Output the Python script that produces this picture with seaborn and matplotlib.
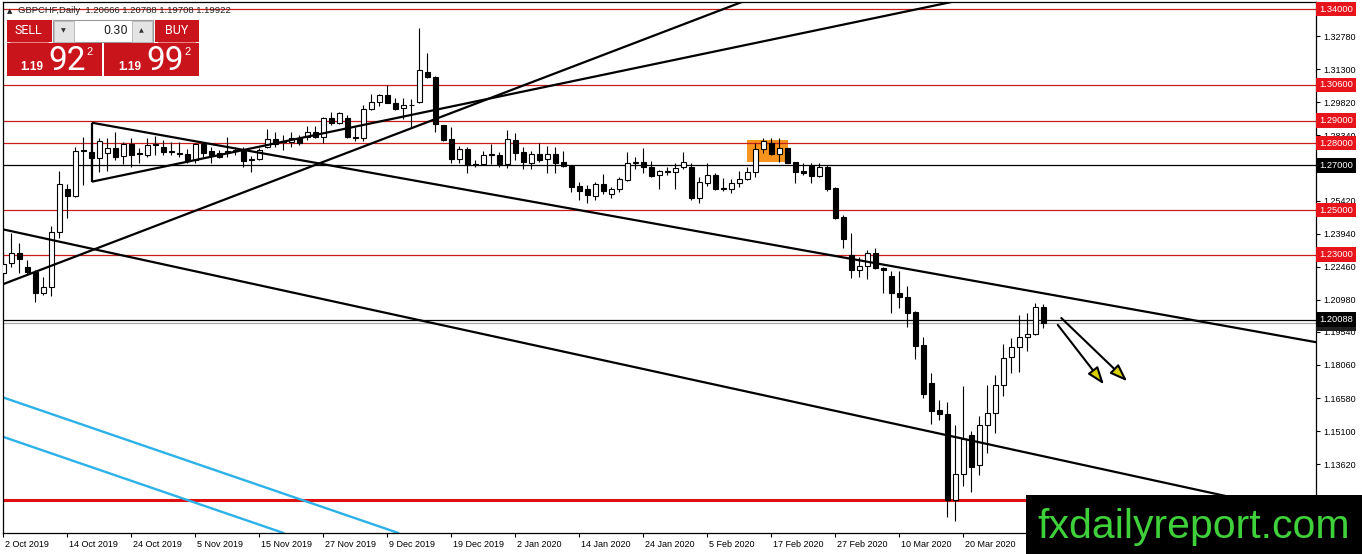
import matplotlib
matplotlib.use("Agg")
import matplotlib.pyplot as plt
import matplotlib.transforms as mtransforms
from matplotlib.patches import Rectangle, FancyArrowPatch
import seaborn as sns
import pandas as pd
import numpy as np

sns.set_theme(style="white")
plt.rcParams["font.family"] = ["Liberation Sans", "DejaVu Sans"]

# ---------------- data (GBPCHF daily) ----------------
opens = [1.22193, 1.22614, 1.23089, 1.22462, 1.22238, 1.21298, 1.2154, 1.24003, 1.25942, 1.25628,
         1.27675, 1.27612, 1.27316, 1.27567, 1.27764, 1.27419, 1.27957, 1.27563, 1.27464, 1.27934,
         1.27809, 1.27634, 1.27531, 1.27509, 1.2724, 1.27957, 1.27643, 1.2754, 1.2759, 1.27634,
         1.27657, 1.27294, 1.27272, 1.27809, 1.28167, 1.28037, 1.2806, 1.28212, 1.28257, 1.28508,
         1.28257, 1.29108, 1.2891, 1.29108, 1.28279, 1.28212, 1.29511, 1.29851, 1.30129, 1.29806,
         1.29555, 1.29725, 1.29851, 1.31194, 1.30957, 1.28807, 1.28181, 1.27272, 1.27719, 1.27039,
         1.27061, 1.27442, 1.27464, 1.27061, 1.28136, 1.27576, 1.27119, 1.27509, 1.27272, 1.27509,
         1.27137, 1.26972, 1.26076, 1.25928, 1.25642, 1.26165, 1.25718, 1.25928, 1.26345, 1.27097,
         1.27137, 1.26913, 1.26568, 1.26739, 1.26689, 1.2694, 1.26927, 1.25525, 1.26224, 1.26568,
         1.25973, 1.25928, 1.26197, 1.26376, 1.26716, 1.27719, 1.28015, 1.27509, 1.27764, 1.27164,
         1.26761, 1.26972, 1.26524, 1.26913, 1.25973, 1.24674, 1.22986, 1.22314, 1.22494, 1.23089,
         1.2239, 1.22046, 1.21271, 1.21092, 1.20447, 1.18956, 1.17241, 1.16045, 1.15866, 1.12015,
         1.13179, 1.14926, 1.13582, 1.15373, 1.15924, 1.17165, 1.18432, 1.1888, 1.19328, 1.19435,
         1.20666]
highs = [1.2312, 1.23985, 1.2351, 1.22762, 1.22314, 1.22014, 1.24285, 1.26748, 1.26165, 1.27809,
         1.28284, 1.27912, 1.28212, 1.28212, 1.28508, 1.2806, 1.28212, 1.27764, 1.28212, 1.28315,
         1.28136, 1.2806, 1.2806, 1.27719, 1.28015, 1.28015, 1.27836, 1.27688, 1.28257, 1.27836,
         1.27836, 1.27419, 1.27764, 1.28615, 1.28508, 1.2836, 1.28508, 1.2836, 1.28763, 1.28763,
         1.29179, 1.29403, 1.29403, 1.29255, 1.28731, 1.29681, 1.30182, 1.30182, 1.30599, 1.30017,
         1.30003, 1.29958, 1.3316, 1.32045, 1.31002, 1.2882, 1.28731, 1.27867, 1.27836, 1.2724,
         1.27657, 1.27957, 1.27612, 1.28584, 1.28436, 1.27822, 1.27657, 1.28015, 1.27867, 1.27836,
         1.27657, 1.27016, 1.26268, 1.26121, 1.26268, 1.26613, 1.26045, 1.26466, 1.27585, 1.27361,
         1.27764, 1.27209, 1.26792, 1.26913, 1.27092, 1.27585, 1.27106, 1.26492, 1.27092, 1.26645,
         1.26421, 1.26376, 1.26761, 1.26913, 1.27988, 1.28212, 1.28212, 1.28212, 1.27787, 1.27164,
         1.27119, 1.27119, 1.27092, 1.27016, 1.26045, 1.24777, 1.23958, 1.2291, 1.2321, 1.23286,
         1.22462, 1.22283, 1.22283, 1.21598, 1.20492, 1.19301, 1.17689, 1.16493, 1.16417, 1.15373,
         1.1712, 1.15118, 1.15777, 1.17165, 1.17612, 1.19001, 1.19256, 1.20299, 1.20375, 1.20823,
         1.20788]
lows = [1.21956, 1.22462, 1.22167, 1.2209, 1.20895, 1.21195, 1.2115, 1.23761, 1.2463, 1.2557,
        1.26121, 1.26869, 1.26716, 1.26761, 1.2724, 1.27061, 1.2694, 1.27092, 1.27388, 1.27464,
        1.27464, 1.27464, 1.27388, 1.27119, 1.27092, 1.27388, 1.27092, 1.27316, 1.27388, 1.27464,
        1.2694, 1.26716, 1.2724, 1.27764, 1.27836, 1.27688, 1.27836, 1.27912, 1.28136, 1.28212,
        1.27988, 1.28807, 1.28852, 1.28212, 1.28091, 1.28091, 1.29479, 1.29658, 1.29779, 1.29479,
        1.29076, 1.28731, 1.29806, 1.30899, 1.28494, 1.28104, 1.27092, 1.27119, 1.26645, 1.26913,
        1.27016, 1.27061, 1.26913, 1.26869, 1.2724, 1.26837, 1.26824, 1.27164, 1.26672, 1.26672,
        1.2694, 1.25821, 1.25449, 1.25301, 1.25449, 1.25718, 1.25525, 1.25821, 1.26313, 1.26824,
        1.26645, 1.26466, 1.25928, 1.26568, 1.25928, 1.26824, 1.25449, 1.25301, 1.26076, 1.25897,
        1.25852, 1.25776, 1.26045, 1.26345, 1.26492, 1.2754, 1.27464, 1.27164, 1.27092, 1.26224,
        1.26568, 1.26197, 1.26466, 1.25865, 1.24585, 1.23286, 1.21943, 1.22014, 1.21898, 1.22337,
        1.21298, 1.20375, 1.20599, 1.19775, 1.18315, 1.16569, 1.15418, 1.15597, 1.11267, 1.11088,
        1.12642, 1.12387, 1.13134, 1.14106, 1.15002, 1.16672, 1.17716, 1.1776, 1.18701, 1.19404,
        1.19708]
closes = [1.22583, 1.23089, 1.22794, 1.22238, 1.21298, 1.2154, 1.24003, 1.26165, 1.25628, 1.27657,
          1.2763, 1.27316, 1.28104, 1.27764, 1.27361, 1.27957, 1.27464, 1.27518, 1.27912, 1.2789,
          1.27612, 1.2759, 1.27487, 1.27209, 1.27957, 1.27567, 1.27464, 1.27388, 1.27634, 1.27679,
          1.27209, 1.27249, 1.27688, 1.28167, 1.27957, 1.28082, 1.28212, 1.27988, 1.28508, 1.28257,
          1.29108, 1.2891, 1.29331, 1.28257, 1.28234, 1.29511, 1.29851, 1.30129, 1.29806, 1.29511,
          1.29681, 1.29681, 1.31248, 1.30944, 1.2883, 1.28136, 1.27272, 1.27719, 1.27016, 1.26994,
          1.27464, 1.27487, 1.27061, 1.28167, 1.27567, 1.27164, 1.27509, 1.2724, 1.27509, 1.27119,
          1.26985, 1.26045, 1.25865, 1.25673, 1.26165, 1.25865, 1.25928, 1.26376, 1.27119, 1.27142,
          1.26913, 1.26537, 1.26748, 1.26694, 1.26895, 1.27164, 1.25525, 1.26268, 1.26568, 1.25928,
          1.25928, 1.26224, 1.26376, 1.26716, 1.27719, 1.28104, 1.27509, 1.27764, 1.27106, 1.26716,
          1.26672, 1.26524, 1.26913, 1.25928, 1.2463, 1.23689, 1.22314, 1.22494, 1.23089, 1.22426,
          1.22314, 1.21298, 1.21092, 1.20402, 1.18911, 1.16762, 1.16014, 1.15866, 1.12015, 1.13179,
          1.14733, 1.13506, 1.15373, 1.15924, 1.17165, 1.1836, 1.1888, 1.19301, 1.19435, 1.20671,
          1.19922]

date_tick_idx = [0, 8, 16, 24, 32, 40, 48, 56, 64, 72, 80, 88, 96, 104, 112, 120]
date_labels = ["2 Oct 2019", "14 Oct 2019", "24 Oct 2019", "5 Nov 2019", "15 Nov 2019",
               "27 Nov 2019", "9 Dec 2019", "19 Dec 2019", "2 Jan 2020", "14 Jan 2020",
               "24 Jan 2020", "5 Feb 2020", "17 Feb 2020", "27 Feb 2020", "10 Mar 2020",
               "20 Mar 2020"]
price_ticks = [1.3278, 1.3130, 1.2982, 1.2834, 1.2686, 1.2542, 1.2394, 1.2246, 1.2098,
               1.1954, 1.1806, 1.1658, 1.1510, 1.1362, 1.1214]

red_levels = [1.34, 1.306, 1.29, 1.28, 1.25, 1.23]
thick_red_level = 1.12
black_levels = [1.27, 1.20088]
bid_level = 1.19922

# trader's drawn objects: (bar index, price) anchors
steep_line = [(-0.075, 1.21674), (65.85, 1.30693)]
tri_lower_ray = [(11.05, 1.26268), (124.6, 1.34770)]
tri_upper_ray = [(11.05, 1.28911), (170.0, 1.18702)]
tri_side = [(11.05, 1.28911), (11.05, 1.26268)]
channel_low = [(-0.075, 1.24137), (140.0, 1.13193)]
cyan_1 = [(-0.075, 1.16614), (60.0, 1.09232)]
cyan_2 = [(-0.075, 1.14850), (60.0, 1.07468)]
orange_box = (93.0, 98.125, 1.27137, 1.28136)
arrows = [((131.6, 1.19954), (137.8, 1.17089)),
          ((132.0, 1.20250), (140.75, 1.17241))]

df = pd.DataFrame({"idx": np.arange(len(opens)), "open": opens, "high": highs,
                   "low": lows, "close": closes})

# ---------------- figure ----------------
W, H = 1362, 554
fig = plt.figure(figsize=(W / 100, H / 100), dpi=100)
fig.patch.set_facecolor("white")
ax = fig.add_axes([3 / W, (H - 533) / H, 1313 / W, 531 / H])
ax.set_facecolor("white")
ax.set_xlim(-0.04, 164.09)
ax.set_ylim(1.10537, 1.34315)
ax.grid(False)

# orange rectangle (background)
ox0, ox1, oy0, oy1 = orange_box
ax.add_patch(Rectangle((ox0, oy0), ox1 - ox0, oy1 - oy0, fc="#f7941d", ec="none", zorder=1))

# horizontal levels
for lv in red_levels:
    ax.axhline(lv, color="#c81e1e", lw=0.9, zorder=1.5)
ax.axhline(thick_red_level, color="#e01010", lw=2.2, zorder=1.5)
for lv in black_levels:
    ax.axhline(lv, color="black", lw=0.9, zorder=1.5)
ax.axhline(bid_level, color="#a8a8a8", lw=0.9, zorder=1.5)

# cyan lines
for ln in (cyan_1, cyan_2):
    ax.axline(ln[0], ln[1], color="#2cb2e8", lw=1.7, zorder=2)

# candles
bull = df["close"] >= df["open"]
ax.vlines(df["idx"], df["low"], df["high"], color="black", lw=0.8, zorder=3)
body_bottom = np.minimum(df["open"], df["close"])
body_h = np.maximum((df["close"] - df["open"]).abs(), 0.00012)
ax.bar(df["idx"], body_h, bottom=body_bottom, width=0.62,
       color=np.where(bull, "white", "black"), edgecolor="black", linewidth=0.8, zorder=4)

# trend lines
ax.axline(steep_line[0], steep_line[1], color="black", lw=1.6, zorder=5)
ax.axline(channel_low[0], channel_low[1], color="black", lw=1.6, zorder=5)
for seg in (tri_lower_ray, tri_upper_ray, tri_side):
    ax.plot([seg[0][0], seg[1][0]], [seg[0][1], seg[1][1]], color="black", lw=1.6,
            zorder=5, solid_capstyle="butt")

# arrows
for (p0, p1) in arrows:
    ax.add_patch(FancyArrowPatch(p0, p1, arrowstyle="-|>,head_length=0.75,head_width=0.27",
                                 mutation_scale=14, fc="#d8d000", ec="black", lw=1.5, zorder=6))

# axes styling
for sp in ax.spines.values():
    sp.set_color("black")
    sp.set_linewidth(0.9)
    sp.set_visible(True)

ax.yaxis.tick_right()
ax.set_yticks(price_ticks)
ax.set_yticklabels([f"{v:.5f}" for v in price_ticks])
ax.tick_params(axis="y", which="both", right=True, left=False, length=3, width=0.8,
               pad=2.5, labelsize=6.5, colors="black", direction="out")

ax.set_xticks(date_tick_idx)
ax.set_xticklabels(date_labels)
ax.tick_params(axis="x", bottom=True, length=3, width=0.8, pad=2, labelsize=6.5,
               colors="black", direction="out")
offset = mtransforms.ScaledTranslation(1.5 / 100, 0, fig.dpi_scale_trans)
for lab in ax.get_xticklabels():
    lab.set_horizontalalignment("left")
    lab.set_transform(lab.get_transform() + offset)

# price tags on the right
trans = mtransforms.blended_transform_factory(ax.transAxes, ax.transData)
def tag(level, fc):
    ax.text(1.0024, level, f"{level:.5f}", transform=trans, ha="left", va="center",
            fontsize=6.7, color="white", clip_on=False, zorder=10,
            bbox=dict(boxstyle="square,pad=0.3", fc=fc, ec="none"))

for lv in red_levels:
    tag(lv, "#e8141c")
tag(bid_level, "#202020")
for lv in black_levels:
    tag(lv, "black")

# ---------------- overlay: header, trade panel, watermark ----------------
ov = fig.add_axes([0, 0, 1, 1], zorder=20)
ov.set_xlim(0, W)
ov.set_ylim(H, 0)
ov.axis("off")
ov.patch.set_visible(False)

ov.text(10, 10.8, "▲", fontsize=5, color="#222222", ha="center", va="center",
        family=["DejaVu Sans"])
ov.text(18, 10.8, "GBPCHF,Daily  1.20666 1.20788 1.19708 1.19922", fontsize=6.8,
        color="#222222", ha="left", va="center")

red = "#c9141b"
ov.add_patch(Rectangle((7, 20), 45, 22, fc=red, ec="none"))
ov.plot([10, 48], [41.6, 41.6], color="#e86a6a", lw=0.6)
ov.text(28.5, 31, "SELL", color="white", fontsize=9, ha="center", va="center", family="Roboto")

ov.add_patch(Rectangle((53, 20), 99.5, 22, fc="white", ec="#9a9a9a", lw=0.8))
ov.add_patch(Rectangle((53.5, 20.5), 20, 21, fc="#e4e4e4", ec="#b4b4b4", lw=0.6))
ov.add_patch(Rectangle((131.5, 20.5), 20.5, 21, fc="#e4e4e4", ec="#b4b4b4", lw=0.6))
ov.text(63.5, 31, "▼", fontsize=4.5, color="#333333", ha="center", va="center",
        family=["DejaVu Sans"])
ov.text(141.7, 31, "▲", fontsize=4.5, color="#333333", ha="center", va="center",
        family=["DejaVu Sans"])
ov.text(128, 31, "0.30", fontsize=9, color="#222222", ha="right", va="center", family="Roboto")

ov.add_patch(Rectangle((155, 20), 43.5, 22, fc=red, ec="none"))
ov.plot([158, 195], [41.6, 41.6], color="#e86a6a", lw=0.6)
ov.text(176.5, 31, "BUY", color="white", fontsize=9, ha="center", va="center", family="Roboto")

ov.add_patch(Rectangle((7, 43), 94.5, 32.5, fc=red, ec="none"))
ov.add_patch(Rectangle((104, 43), 95, 32.5, fc=red, ec="none"))
for x_small, x_big, x_sup, big in ((20.5, 48.5, 86.5, "92"), (118.5, 146.5, 184, "99")):
    ov.text(x_small, 70, "1.19", fontsize=8.5, weight="bold", color="white",
            ha="left", va="baseline")
    ov.text(x_big, 70, big, fontsize=24, color="white", ha="left", va="baseline",
            family="Roboto")
    ov.text(x_sup, 55, "2", fontsize=8, color="white", ha="left", va="baseline")

ov.add_patch(Rectangle((1026, 495), 336, 59, fc="black", ec="none"))
ov.text(1037, 538, "fxdailyreport.com", fontsize=29.5, color="#3fd13a", ha="left",
        va="baseline", family="Liberation Sans")

fig.savefig("out.png", dpi=100, facecolor="white")
